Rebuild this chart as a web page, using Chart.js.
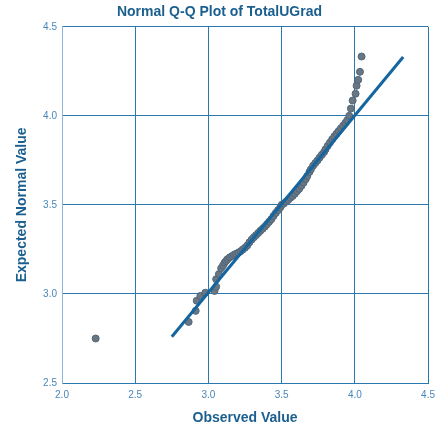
<!DOCTYPE html>
<html>
<head>
<meta charset="utf-8">
<script src="https://cdn.jsdelivr.net/npm/chart.js@4"></script>
<style>
  html, body { margin: 0; padding: 0; background: #fff; }
  #wrap { width: 441px; height: 427px; }
</style>
</head>
<body>
<div id="wrap"><canvas id="qqChart"></canvas></div>
<script>
const observed = [
  2.23, 2.865, 2.913, 2.92, 2.945, 2.979, 3.042, 3.053, 3.053, 3.072, 3.087,
  3.10, 3.11, 3.12, 3.13, 3.145, 3.16, 3.175, 3.19, 3.205, 3.22, 3.235, 3.25,
  3.265, 3.28, 3.295, 3.31, 3.325, 3.34, 3.355, 3.37, 3.385, 3.40, 3.415, 3.43,
  3.445, 3.46, 3.475, 3.49, 3.50, 3.515, 3.53, 3.545, 3.56, 3.575, 3.59, 3.605,
  3.62, 3.635, 3.65, 3.665, 3.675, 3.69, 3.70, 3.715, 3.73, 3.745, 3.76, 3.775,
  3.79, 3.80, 3.815, 3.83, 3.845, 3.86, 3.875, 3.89, 3.905, 3.92, 3.935, 3.948,
  3.962, 3.973, 3.985, 4.005, 4.012, 4.023, 4.035, 4.046
];
const expected = [
  2.75, 2.843, 2.905, 2.962, 2.989, 3.007, 3.017, 3.041, 3.083, 3.112, 3.144,
  3.16, 3.175, 3.185, 3.195, 3.205, 3.212, 3.22, 3.226, 3.232, 3.24, 3.25, 3.26,
  3.272, 3.29, 3.305, 3.318, 3.33, 3.342, 3.355, 3.366, 3.378, 3.392, 3.406, 3.42,
  3.438, 3.455, 3.47, 3.485, 3.50, 3.508, 3.518, 3.528, 3.54, 3.55, 3.562, 3.577,
  3.59, 3.607, 3.625, 3.645, 3.662, 3.685, 3.70, 3.72, 3.735, 3.75, 3.766, 3.782,
  3.797, 3.812, 3.832, 3.85, 3.868, 3.885, 3.90, 3.915, 3.93, 3.945, 3.96, 3.975,
  4.00, 4.041, 4.086, 4.124, 4.169, 4.202, 4.247, 4.333
];
// reference line y = x
const lineX = [2.75, 4.33];
const lineY = [2.76, 4.33];

const xTicks = [2.0, 2.5, 3.0, 3.5, 4.0, 4.5];
const yTicks = [2.5, 3.0, 3.5, 4.0, 4.5];

const darkBlue = '#1b5f8f';
const gridBlue = '#2a78ad';
const tickBlue = '#4a86b8';
const fontName = 'Liberation Sans';

new Chart(document.getElementById('qqChart'), {
    type: 'scatter',
    data: {
        datasets: [
            {
                type: 'line',
                data: lineX.map((x, i) => ({ x: x, y: lineY[i] })),
                borderColor: '#15659f',
                borderWidth: 3,
                pointRadius: 0,
                fill: false
            },
            {
                data: observed.map((x, i) => ({ x: x, y: expected[i] })),
                backgroundColor: '#6a7682',
                borderColor: '#4f677b',
                borderWidth: 1,
                pointRadius: 3.5
            }
        ]
    },
    options: {
        responsive: true,
        maintainAspectRatio: false,
        animation: false,
        events: [],
        layout: { padding: { left: 10, right: 12, top: 4, bottom: 0 } },
        plugins: {
            legend: { display: false },
            tooltip: { enabled: false },
            title: {
                display: true,
                text: 'Normal Q-Q Plot of TotalUGrad',
                color: darkBlue,
                font: { family: fontName, size: 14, weight: 'bold' },
                padding: { top: 0, bottom: 6 }
            }
        },
        scales: {
            x: {
                type: 'linear',
                min: xTicks[0],
                max: xTicks[xTicks.length - 1],
                afterBuildTicks: s => { s.ticks = xTicks.map(v => ({ value: v })); },
                afterFit: s => { s.height = 44; },
                grid: { color: gridBlue, drawTicks: false },
                border: { color: gridBlue },
                ticks: {
                    color: tickBlue,
                    padding: 6,
                    font: { family: fontName, size: 10 },
                    callback: v => v.toFixed(1)
                },
                title: {
                    display: true,
                    text: 'Observed Value',
                    color: darkBlue,
                    font: { family: fontName, size: 14, weight: 'bold' },
                    padding: { top: 4, bottom: 0 }
                }
            },
            y: {
                type: 'linear',
                min: yTicks[0],
                max: yTicks[yTicks.length - 1],
                afterBuildTicks: s => { s.ticks = yTicks.map(v => ({ value: v })); },
                afterFit: s => { s.width = 52; },
                grid: { color: gridBlue, drawTicks: false },
                border: { color: '#8db5d5' },
                ticks: {
                    color: tickBlue,
                    padding: 5,
                    font: { family: fontName, size: 10 },
                    callback: v => v.toFixed(1)
                },
                title: {
                    display: true,
                    text: 'Expected Normal Value',
                    color: darkBlue,
                    font: { family: fontName, size: 14, weight: 'bold' },
                    padding: { top: 4, bottom: 4 }
                }
            }
        }
    }
});
</script>
</body>
</html>
